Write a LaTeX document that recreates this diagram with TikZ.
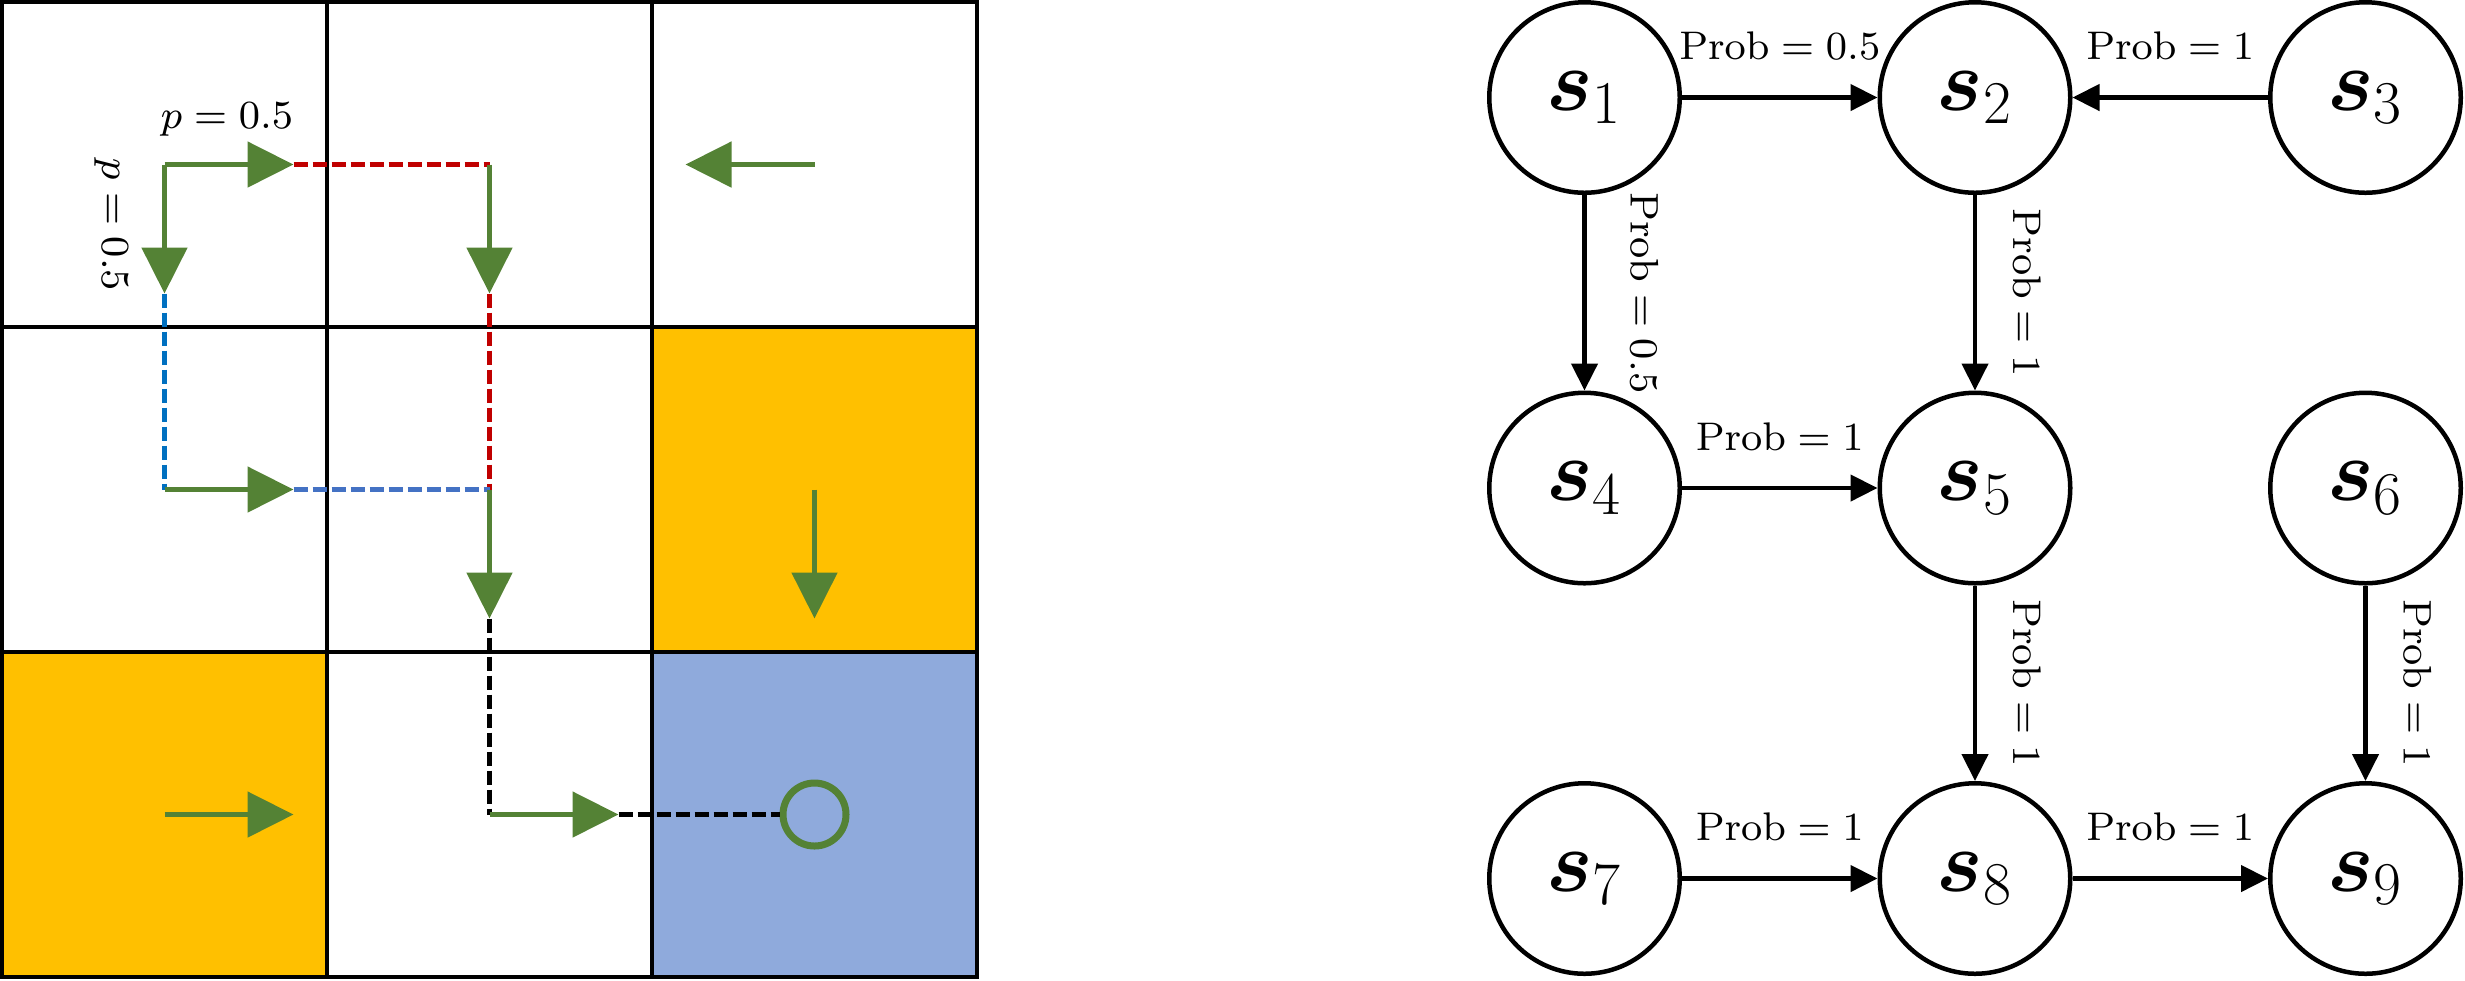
\documentclass[tikz,border=0pt]{standalone}
\usepackage{bm}
\usetikzlibrary{arrows.meta,calc}
\definecolor{ggreen}{HTML}{548235}
\definecolor{dred}{HTML}{C00000}
\definecolor{dblue}{HTML}{0070C0}
\definecolor{lblue}{HTML}{4472C4}
\definecolor{cyellow}{HTML}{FFC000}
\definecolor{cblue}{HTML}{8FAADC}
\begin{document}
\begin{tikzpicture}[
  gridline/.style={line width=0.048cm, draw=black},
  garrow/.style={draw=ggreen, line width=0.05cm, -{Triangle[length=0.46cm,width=0.45cm]}},
  dashseg/.style={line width=0.05cm, dash pattern=on 0.14cm off 0.05cm},
  goal/.style={circle, draw=ggreen, line width=0.07cm, minimum size=0.63cm, inner sep=0pt},
  stnode/.style={circle, draw, line width=0.045cm, minimum size=1.905cm, inner sep=0pt, font=\fontsize{23}{27}\selectfont},
  edge/.style={line width=0.045cm, -{Triangle[length=0.27cm,width=0.26cm]}},
  lab/.style={font=\fontsize{8}{9.6}\selectfont, scale=1.42, inner sep=0pt, anchor=base},
  vlab/.style={lab, rotate=-90},
]
\useasboundingbox (0,0) rectangle (24.65,-9.80);

% ---------- grid world ----------
\fill[cyellow] (6.52,-3.27) rectangle (9.77,-6.52);
\fill[cyellow] (0.02,-6.52) rectangle (3.27,-9.77);
\fill[cblue] (6.52,-6.52) rectangle (9.77,-9.77);
\foreach \i in {1,2} {
  \draw[gridline] ({0.02+3.25*\i},-0.02) -- ({0.02+3.25*\i},-9.77);
  \draw[gridline] (0.02,{-0.02-3.25*\i}) -- (9.77,{-0.02-3.25*\i});
}
\draw[gridline] (0.02,-0.02) rectangle (9.77,-9.77);

% path points
\coordinate (a) at (1.645,-1.645);
\coordinate (ar) at (2.935,-1.645);
\coordinate (ad) at (1.645,-2.935);
\coordinate (b) at (4.895,-1.645);
\coordinate (bd) at (4.895,-2.935);
\coordinate (d) at (1.645,-4.895);
\coordinate (dr) at (2.935,-4.895);
\coordinate (e) at (4.895,-4.895);
\coordinate (ed) at (4.895,-6.185);
\coordinate (h) at (4.895,-8.145);
\coordinate (hr) at (6.185,-8.145);
\node[goal] (g) at (8.145,-8.145) {};
\coordinate (c) at (8.145,-1.645);
\coordinate (cl) at (6.855,-1.645);
\coordinate (f) at (8.145,-4.895);
\coordinate (fd) at (8.145,-6.185);
\coordinate (gg) at (1.645,-8.145);
\coordinate (ggr) at (2.935,-8.145);

% dashed segments
\draw[dashseg, draw=dred] (ar) -- (b);
\draw[dashseg, draw=dred] (bd) -- (e);
\draw[dashseg, draw=dblue] (ad) -- (d);
\draw[dashseg, draw=lblue] (dr) -- (e);
\draw[dashseg, draw=black] (ed) -- (h);
\draw[dashseg, draw=black] (hr) -- (g.west);

% green arrows
\draw[garrow] (a) -- (ar);
\draw[garrow] (a) -- (ad);
\draw[garrow] (b) -- (bd);
\draw[garrow] (d) -- (dr);
\draw[garrow] (e) -- (ed);
\draw[garrow] (h) -- (hr);
\draw[garrow] (c) -- (cl);
\draw[garrow] (f) -- (fd);
\draw[garrow] (gg) -- (ggr);

\node[lab] (pl1) at (2.27,-1.28) {$p=0.5$};
\node[vlab] (pl2) at (1.02,-2.25) {$p=0.5$};

% ---------- state graph ----------
\node[stnode] (s1) at (15.845,-0.975) {$\bm{s}_1$};
\node[stnode] (s2) at (19.75,-0.975) {$\bm{s}_2$};
\node[stnode] (s3) at (23.655,-0.975) {$\bm{s}_3$};
\node[stnode] (s4) at (15.845,-4.88) {$\bm{s}_4$};
\node[stnode] (s5) at (19.75,-4.88) {$\bm{s}_5$};
\node[stnode] (s6) at (23.655,-4.88) {$\bm{s}_6$};
\node[stnode] (s7) at (15.845,-8.785) {$\bm{s}_7$};
\node[stnode] (s8) at (19.75,-8.785) {$\bm{s}_8$};
\node[stnode] (s9) at (23.655,-8.785) {$\bm{s}_9$};

\draw[edge] (s1) -- (s2);
\draw[edge] (s3) -- (s2);
\draw[edge] (s4) -- (s5);
\draw[edge] (s7) -- (s8);
\draw[edge] (s8) -- (s9);
\draw[edge] (s1) -- (s4);
\draw[edge] (s2) -- (s5);
\draw[edge] (s5) -- (s8);
\draw[edge] (s6) -- (s9);

\node[lab] (l12) at ($(s1)!0.5!(s2)+(0,0.38)$) {$\mathrm{Prob}=0.5$};
\node[lab] (l32) at ($(s3)!0.5!(s2)+(0,0.38)$) {$\mathrm{Prob}=1$};
\node[lab] (l45) at ($(s4)!0.5!(s5)+(0,0.38)$) {$\mathrm{Prob}=1$};
\node[lab] (l78) at ($(s7)!0.5!(s8)+(0,0.38)$) {$\mathrm{Prob}=1$};
\node[lab] (l89) at ($(s8)!0.5!(s9)+(0,0.38)$) {$\mathrm{Prob}=1$};
\node[vlab] (l14) at ($(s1)!0.5!(s4)+(0.46,0)$) {$\mathrm{Prob}=0.5$};
\node[vlab] (l25) at ($(s2)!0.5!(s5)+(0.38,0)$) {$\mathrm{Prob}=1$};
\node[vlab] (l58) at ($(s5)!0.5!(s8)+(0.38,0)$) {$\mathrm{Prob}=1$};
\node[vlab] (l69) at ($(s6)!0.5!(s9)+(0.38,0)$) {$\mathrm{Prob}=1$};
\end{tikzpicture}
\end{document}
